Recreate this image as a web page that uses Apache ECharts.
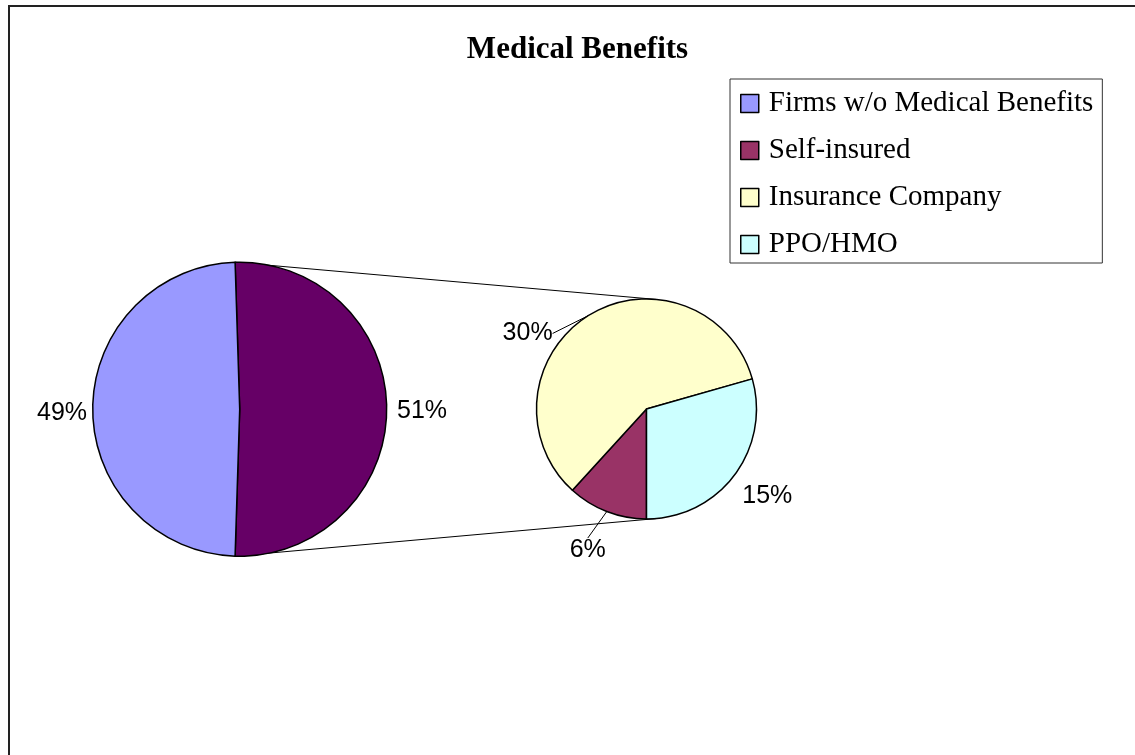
<!DOCTYPE html>
<html>
<head>
<meta charset="utf-8">
<script src="https://cdn.jsdelivr.net/npm/echarts@6/dist/echarts.min.js"></script>
<style>
html,body{margin:0;padding:0;background:#fff;}
#chart{width:1135px;height:755px;}
</style>
</head>
<body>
<div id="chart"></div>
<script>
// ---- data ----
const titleText = 'Medical Benefits';
const legendNames = ['Firms w/o Medical Benefits', 'Self-insured', 'Insurance Company', 'PPO/HMO'];
const mainNames = ['Other', 'Firms w/o Medical Benefits'];
const mainValues = [51, 49];
const subNames = ['Self-insured', 'Insurance Company', 'PPO/HMO'];
const subValues = [6, 30, 15];

// ---- style ----
const mainColors = ['#660066', '#9999FF'];
const subColors = ['#993366', '#FFFFCC', '#CCFFFF'];
const subLabelLine = [
  {show: true, length: 12, length2: 0},
  {show: true, length: 8, length2: 0},
  {show: false, length: 0, length2: 0}
];
// label centre offsets from each slice's outer mid point
const mainLabelOffset = [[35.3, 2.3], [-30.7, 4.3]];
const subLabelOffset = [[-19, 39], [-61, 18], [33, 20.5]];
const labelFont = {fontFamily: 'Liberation Sans, Arial, sans-serif', fontSize: 25, color: '#000'};

const mainTotal = mainValues.reduce((a, b) => a + b, 0);
const mainStart = mainValues[0] / mainTotal * 180; // centre "Other" slice on the right

const chart = echarts.init(document.getElementById('chart'), null, {renderer: 'canvas'});

function placeLabel(seriesIndex, offsets) {
  return function (p) {
    const lay = chart.getModel().getSeriesByIndex(seriesIndex).getData().getItemLayout(p.dataIndex);
    const mid = (lay.startAngle + lay.endAngle) / 2;
    const ax = lay.cx + lay.r * Math.cos(mid), ay = lay.cy + lay.r * Math.sin(mid);
    const o = offsets[p.dataIndex];
    return {x: ax + o[0], y: ay + o[1], align: 'center', verticalAlign: 'middle'};
  };
}

const mainData = mainNames.map((n, i) => ({
  name: n, value: mainValues[i],
  itemStyle: {color: mainColors[i]}
}));
const subData = subNames.map((n, i) => ({
  name: n, value: subValues[i],
  itemStyle: {color: subColors[i]},
  labelLine: subLabelLine[i]
}));

const option = {
  animation: false,
  backgroundColor: '#fff',
  title: {
    text: titleText,
    left: 572.5, top: 29, textAlign: 'center',
    textStyle: {fontFamily: 'Liberation Serif, Times New Roman, serif', fontWeight: 'bold', fontSize: 31, color: '#000'}
  },
  legend: {
    data: legendNames,
    orient: 'vertical',
    left: 730, top: 79,
    padding: [9, 9, 3, 10],
    itemWidth: 18, itemHeight: 18, itemGap: 16,
    icon: 'rect',
    selectedMode: false,
    borderColor: '#333', borderWidth: 1,
    backgroundColor: '#fff',
    itemStyle: {borderColor: '#000', borderWidth: 1.5},
    textStyle: {fontFamily: 'Liberation Serif, Times New Roman, serif', fontSize: 29, color: '#000', lineHeight: 31, padding: [0, 0, 0, 5]}
  },
  series: [
    {
      type: 'pie', name: 'main',
      center: [239.7, 409.2], radius: 147,
      startAngle: mainStart, clockwise: true,
      avoidLabelOverlap: false,
      silent: true,
      itemStyle: {borderColor: '#000', borderWidth: 1.5},
      label: Object.assign({show: true, position: 'outside', formatter: '{c}%'}, labelFont),
      labelLine: {show: false, length: 0, length2: 0},
      labelLayout: placeLabel(0, mainLabelOffset),
      emphasis: {disabled: true},
      data: mainData
    },
    {
      type: 'pie', name: 'sub',
      center: [646.5, 409], radius: 110,
      startAngle: 270, clockwise: true,
      avoidLabelOverlap: false,
      silent: true,
      itemStyle: {borderColor: '#000', borderWidth: 1.5},
      label: Object.assign({show: true, position: 'outside', formatter: '{c}%', distanceToLabelLine: 3}, labelFont),
      labelLine: {show: true, lineStyle: {color: '#000', width: 1}},
      labelLayout: placeLabel(1, subLabelOffset),
      emphasis: {disabled: true},
      data: subData
    }
  ],
  graphic: [{
    type: 'rect', silent: true, z: 100,
    shape: {x: 9, y: 6, width: 1300, height: 900},
    style: {fill: null, stroke: '#222', lineWidth: 2}
  }]
};
chart.setOption(option);

// connector lines from the main pie's "Other" slice to the secondary pie, derived from the laid-out pies
function drawConnectors() {
  const model = chart.getModel();
  const mainLay = model.getSeriesByIndex(0).getData().getItemLayout(0);
  const subLay = model.getSeriesByIndex(1).getData().getItemLayout(0);
  const cx = mainLay.cx, cy = mainLay.cy, r = mainLay.r;
  const pTop = [cx + r * Math.cos(mainLay.startAngle), cy + r * Math.sin(mainLay.startAngle)];
  const pBot = [cx + r * Math.cos(mainLay.endAngle), cy + r * Math.sin(mainLay.endAngle)];
  const C = [subLay.cx, subLay.cy], R = subLay.r;
  function tangent(P, sign) {
    const vx = C[0] - P[0], vy = C[1] - P[1];
    const d = Math.hypot(vx, vy);
    const th = Math.atan2(vy, vx);
    const al = Math.asin(R / d);
    const L = Math.sqrt(d * d - R * R);
    const a = th + sign * al;
    return [P[0] + L * Math.cos(a), P[1] + L * Math.sin(a)];
  }
  const tTop = tangent(pTop, -1), tBot = tangent(pBot, 1);
  const lines = [[pTop, tTop], [pBot, tBot]].map(seg => ({
    type: 'line', silent: true, z: 1,
    shape: {x1: seg[0][0], y1: seg[0][1], x2: seg[1][0], y2: seg[1][1]},
    style: {stroke: '#000', lineWidth: 1}
  }));
  chart.setOption({graphic: option.graphic.concat(lines)});
}
drawConnectors();
</script>
</body>
</html>
